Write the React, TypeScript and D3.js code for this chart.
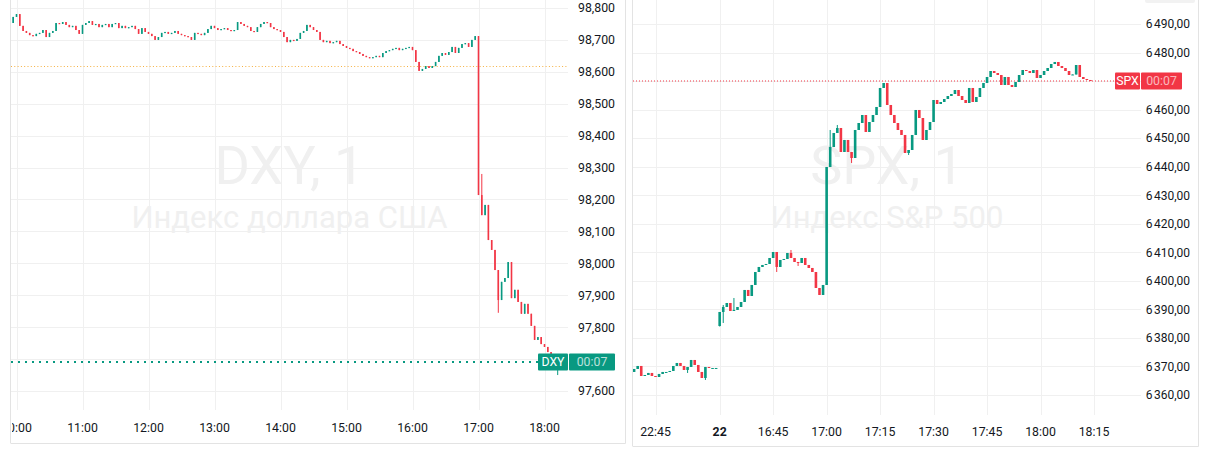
import React from 'react';
import * as d3 from 'd3';

// ---------------- DXY (left panel) ----------------
const dxyTimeTicks = ['10:00', '11:00', '12:00', '13:00', '14:00', '15:00', '16:00', '17:00', '18:00'];
const dxyPriceTicks = [97.6, 97.7, 97.8, 97.9, 98.0, 98.1, 98.2, 98.3, 98.4, 98.5, 98.6, 98.7, 98.8];
const dxyStart = '09:54';
const dxyStepMinutes = 3;
const dxyFirstOpen = 98.745;
const dxyClose = [
  98.753, 98.772, 98.781, 98.744, 98.728, 98.722, 98.715, 98.712, 98.719, 98.722,
  98.731, 98.709, 98.722, 98.728, 98.753, 98.750, 98.756, 98.747, 98.740, 98.744,
  98.731, 98.719, 98.747, 98.753, 98.759, 98.747, 98.750, 98.740, 98.747, 98.750,
  98.740, 98.750, 98.753, 98.737, 98.744, 98.737, 98.740, 98.744, 98.734, 98.719,
  98.737, 98.725, 98.719, 98.712, 98.700, 98.709, 98.722, 98.725, 98.719, 98.722,
  98.728, 98.719, 98.715, 98.712, 98.709, 98.700, 98.722, 98.719, 98.715, 98.722,
  98.734, 98.744, 98.737, 98.731, 98.734, 98.737, 98.731, 98.728, 98.731, 98.756,
  98.750, 98.744, 98.740, 98.728, 98.725, 98.740, 98.750, 98.756, 98.753, 98.740,
  98.734, 98.731, 98.725, 98.709, 98.693, 98.700, 98.697, 98.703, 98.722, 98.728,
  98.747, 98.740, 98.731, 98.725, 98.700, 98.693, 98.697, 98.690, 98.693, 98.697,
  98.687, 98.681, 98.675, 98.672, 98.665, 98.662, 98.656, 98.650, 98.646, 98.643,
  98.646, 98.650, 98.646, 98.659, 98.665, 98.668, 98.672, 98.675, 98.668, 98.672,
  98.675, 98.678, 98.668, 98.631, 98.603, 98.609, 98.618, 98.612, 98.618, 98.631,
  98.650, 98.659, 98.653, 98.662, 98.678, 98.659, 98.675, 98.687, 98.690, 98.678,
  98.700, 98.712, 98.214, 98.151, 98.183, 98.073, 98.042, 97.979, 97.885, 97.942,
  97.954, 98.004, 97.891, 97.917, 97.879, 97.842, 97.873, 97.842, 97.804, 97.760,
  97.769, 97.747, 97.738, 97.722, 97.691, 97.666, 97.691,
];
const dxyWicks = [
  { i: 143, hi: 98.28 },
  { i: 148, lo: 97.845 },
  { i: 166, lo: 97.65 },
];
const dxyRefLine = 98.617;
const dxyTitle = 'DXY, 1';
const dxyName = 'Индекс доллара США';
const dxyTag = 'DXY';
const countdown = '00:07';

// ---------------- SPX (right panel) ----------------
const spxTickLabels = ['22:45', '22', '16:45', '17:00', '17:15', '17:30', '17:45', '18:00', '18:15'];
const spxTickBars = [6, 24, 39, 54, 69, 84, 99, 114, 129];
const spxPriceTicks = [6360, 6370, 6380, 6390, 6400, 6410, 6420, 6430, 6440, 6450, 6460, 6470, 6480, 6490];
const spxFirstOpen = 6368.07;
const spxSessionBar = 24;
const spxSessionOpen = 6384.18;
const spxClose = [
  6369.12, 6370.17, 6366.66, 6367.01, 6367.72, 6366.66, 6366.31, 6367.37, 6368.07, 6368.07,
  6368.42, 6370.17, 6371.22, 6370.17, 6368.77, 6369.82, 6372.27, 6370.52, 6368.07, 6365.96,
  6369.82, 6369.47, 6369.47, 6369.47, 6389.09, 6390.84, 6392.24, 6389.44, 6389.79, 6390.84,
  6392.59, 6396.80, 6394.69, 6398.55, 6403.10, 6404.86, 6405.56, 6405.91, 6408.01, 6410.11,
  6404.86, 6407.31, 6407.66, 6409.76, 6408.01, 6406.61, 6406.26, 6408.01, 6405.56, 6404.51,
  6403.10, 6397.50, 6395.05, 6398.55, 6439.89, 6446.90, 6451.81, 6453.56, 6445.15, 6449.36,
  6445.15, 6443.05, 6452.86, 6455.31, 6458.11, 6452.16, 6455.66, 6458.11, 6460.92, 6467.58,
  6469.33, 6461.62, 6458.11, 6455.31, 6452.86, 6451.11, 6444.80, 6445.85, 6451.11, 6459.87,
  6457.06, 6449.36, 6452.86, 6455.66, 6463.37, 6461.97, 6462.67, 6463.72, 6464.77, 6465.47,
  6466.87, 6464.77, 6463.37, 6462.32, 6467.58, 6462.67, 6464.42, 6467.58, 6469.33, 6471.43,
  6473.53, 6472.83, 6472.13, 6468.63, 6471.43, 6468.63, 6467.93, 6469.68, 6472.13, 6473.88,
  6473.53, 6472.83, 6473.88, 6471.08, 6472.13, 6473.53, 6474.58, 6475.98, 6476.69, 6475.28,
  6474.58, 6473.53, 6472.13, 6472.31, 6475.63, 6471.43, 6470.73, 6470.38, 6470.03,
];
const spxWicks = [
  { i: 15, lo: 6367.72 },
  { i: 20, lo: 6365.26 },
  { i: 24, lo: 6384.0 },
  { i: 25, hi: 6391.54, lo: 6385.24 },
  { i: 28, hi: 6393.99 },
  { i: 40, lo: 6403.1 },
  { i: 44, hi: 6410.81 },
  { i: 46, lo: 6405.21 },
  { i: 55, hi: 6452.86 },
  { i: 57, hi: 6454.61 },
  { i: 61, lo: 6441.3 },
  { i: 77, lo: 6444.1 },
];
const spxTitle = 'SPX, 1';
const spxName = 'Индекс S&P 500';
const spxTag = 'SPX';

// ---------------- styling ----------------
const GREEN = '#089981';
const RED = '#f23645';
const GRID = '#f0f0f0';
const BORDER = '#e3e3e3';
const TEXT = '#131722';
const WATER = '#f0f0f0';
const FONT = 'Roboto, "Noto Sans", "Liberation Sans", sans-serif';

const hm = (s: string) => {
  const [h, m] = s.split(':').map(Number);
  return h * 60 + m;
};

const ruLocale = d3.formatLocale({ decimal: ',', thousands: '\u202f', grouping: [3], currency: ['', ''] });
const fmtDxy = ruLocale.format('.3f');
const fmtSpx = ruLocale.format(',.2f');

type Wick = { i: number; hi?: number; lo?: number };

function buildCandles(close: number[], firstOpen: number, wicks: Wick[], gapBar?: number, gapOpen?: number) {
  return close.map((c, i) => {
    let o = i === 0 ? firstOpen : close[i - 1];
    if (gapBar !== undefined && i === gapBar && gapOpen !== undefined) o = gapOpen;
    const w = wicks.find((d) => d.i === i);
    const hi = Math.max(o, c, w && w.hi !== undefined ? w.hi : -Infinity);
    const lo = Math.min(o, c, w && w.lo !== undefined ? w.lo : Infinity);
    return { i, o, c, hi, lo };
  });
}

export default function App() {
  // ----- left scales -----
  const xL = d3.scaleLinear().domain([hm('10:00'), hm('18:00')]).range([16.5, 544.5]);
  const yL = d3.scaleLinear().domain([97.6, 98.8]).range([391, 8]);
  const dxy = buildCandles(dxyClose, dxyFirstOpen, dxyWicks);
  const dxyStartMin = hm(dxyStart);
  const dxyLast = dxyClose[dxyClose.length - 1];
  const Lplot = { x0: 11, x1: 568, y1: 410 };

  // ----- right scales -----
  const xR = d3.scaleLinear().domain([6, 129]).range([655.5, 1094]);
  const yR = d3.scaleLinear().domain([6360, 6490]).range([395, 24]);
  const spx = buildCandles(spxClose, spxFirstOpen, spxWicks, spxSessionBar, spxSessionOpen);
  const spxLast = spxClose[spxClose.length - 1];
  const Rplot = { x0: 633, x1: 1141, y1: 415 };

  const px = (v: number) => Math.round(v) + 0.5;

  const dxyBW = 1.6;
  const spxBW = 2.6;

  const yDxyLast = yL(dxyLast);
  const ySpxLast = yR(spxLast);

  // axis labels hidden behind the last-price tags are not drawn
  const dxyAxisTicks = dxyPriceTicks.filter((p) => Math.abs(yL(p) - yDxyLast) > 11);
  const spxAxisTicks = spxPriceTicks.filter((p) => Math.abs(yR(p) - ySpxLast) > 11);

  return (
    <svg
      width={1210}
      height={454}
      style={{ position: 'absolute', left: 0, top: 0, background: '#fff' }}
      fontFamily={FONT}
    >
      <defs>
        <clipPath id="clipL">
          <rect x={Lplot.x0} y={0} width={Lplot.x1 - Lplot.x0} height={Lplot.y1} />
        </clipPath>
        <clipPath id="clipLaxis">
          <rect x={Lplot.x0 + 1} y={0} width={625 - Lplot.x0} height={454} />
        </clipPath>
        <clipPath id="clipR">
          <rect x={Rplot.x0} y={0} width={Rplot.x1 - Rplot.x0} height={Rplot.y1} />
        </clipPath>
      </defs>
      <rect x={0} y={0} width={1210} height={454} fill="#fff" />

      {/* ================= LEFT PANEL ================= */}
      <g clipPath="url(#clipL)">
        <text x={(Lplot.x0 + Lplot.x1) / 2} y={184} textAnchor="middle" fontSize={54} fill={WATER}>
          {dxyTitle}
        </text>
        <text x={(Lplot.x0 + Lplot.x1) / 2} y={228} textAnchor="middle" fontSize={31} fill={WATER}>
          {dxyName}
        </text>
        {dxyPriceTicks.map((p) => (
          <line key={'lh' + p} x1={Lplot.x0} x2={Lplot.x1} y1={px(yL(p))} y2={px(yL(p))} stroke={GRID} />
        ))}
        {dxyTimeTicks.map((t) => (
          <line key={'lv' + t} x1={px(xL(hm(t)))} x2={px(xL(hm(t)))} y1={0} y2={Lplot.y1} stroke={GRID} />
        ))}
        <line
          x1={Lplot.x0}
          x2={Lplot.x1}
          y1={px(yL(dxyRefLine))}
          y2={px(yL(dxyRefLine))}
          stroke="#f5b041"
          strokeWidth={1}
          strokeDasharray="1 2.3"
        />
        {dxy.map((d) => {
          const x = xL(dxyStartMin + d.i * dxyStepMinutes);
          const up = d.c >= d.o;
          const col = up ? GREEN : RED;
          const top = yL(Math.max(d.o, d.c));
          const bot = yL(Math.min(d.o, d.c));
          return (
            <g key={'dc' + d.i}>
              <line x1={x} x2={x} y1={yL(d.hi)} y2={yL(d.lo)} stroke={col} strokeWidth={1} />
              <rect x={x - dxyBW / 2} y={top} width={dxyBW} height={Math.max(1.2, bot - top)} fill={col} />
            </g>
          );
        })}
        <line
          x1={Lplot.x0}
          x2={538}
          y1={yDxyLast}
          y2={yDxyLast}
          stroke={GREEN}
          strokeWidth={2}
          strokeDasharray="2 5"
        />
      </g>

      {/* left borders */}
      <line x1={10.5} x2={10.5} y1={0} y2={443} stroke={BORDER} />
      <line x1={10.5} x2={625.5} y1={443.5} y2={443.5} stroke={BORDER} />
      <line x1={625.5} x2={625.5} y1={0} y2={443.5} stroke={BORDER} />

      {/* left price axis */}
      {dxyAxisTicks.map((p) => (
        <text key={'lt' + p} x={615} y={yL(p)} dy="0.36em" textAnchor="end" fontSize={12.3} fill={TEXT}>
          {fmtDxy(p)}
        </text>
      ))}
      {/* left time axis */}
      <g clipPath="url(#clipLaxis)">
        {dxyTimeTicks.map((t) => (
          <text key={'ltt' + t} x={xL(hm(t))} y={432} textAnchor="middle" fontSize={12.3} fill={TEXT}>
            {t}
          </text>
        ))}
      </g>
      {/* DXY tag */}
      <g>
        <rect x={538} y={yDxyLast - 8.5} width={30} height={17} fill={GREEN} rx={1} />
        <rect x={569} y={yDxyLast - 8.5} width={46} height={17} fill={GREEN} rx={1} />
        <text x={553} y={yDxyLast} dy="0.36em" textAnchor="middle" fontSize={12.3} fill="#fff">
          {dxyTag}
        </text>
        <text x={592} y={yDxyLast} dy="0.36em" textAnchor="middle" fontSize={12.3} fill="rgba(255,255,255,0.72)">
          {countdown}
        </text>
      </g>

      {/* ================= RIGHT PANEL ================= */}
      <g clipPath="url(#clipR)">
        <text x={(Rplot.x0 + Rplot.x1) / 2} y={184} textAnchor="middle" fontSize={54} fill={WATER}>
          {spxTitle}
        </text>
        <text x={(Rplot.x0 + Rplot.x1) / 2} y={228} textAnchor="middle" fontSize={31} fill={WATER}>
          {spxName}
        </text>
        {spxPriceTicks.map((p) => (
          <line key={'rh' + p} x1={Rplot.x0} x2={Rplot.x1} y1={px(yR(p))} y2={px(yR(p))} stroke={GRID} />
        ))}
        {spxTickBars.map((b) => (
          <line key={'rv' + b} x1={px(xR(b))} x2={px(xR(b))} y1={0} y2={Rplot.y1} stroke={GRID} />
        ))}
        <line
          x1={Rplot.x0}
          x2={1115}
          y1={ySpxLast}
          y2={ySpxLast}
          stroke={RED}
          strokeWidth={1}
          strokeDasharray="1 2"
        />
        {spx.map((d) => {
          const x = xR(d.i);
          const up = d.c >= d.o;
          const col = up ? GREEN : RED;
          const top = yR(Math.max(d.o, d.c));
          const bot = yR(Math.min(d.o, d.c));
          return (
            <g key={'sc' + d.i}>
              <line x1={x} x2={x} y1={yR(d.hi)} y2={yR(d.lo)} stroke={col} strokeWidth={1} />
              <rect x={x - spxBW / 2} y={top} width={spxBW} height={Math.max(1, bot - top)} fill={col} />
            </g>
          );
        })}
      </g>

      {/* right borders */}
      <line x1={632.5} x2={632.5} y1={0} y2={446} stroke={BORDER} />
      <line x1={632.5} x2={1198.5} y1={446.5} y2={446.5} stroke={BORDER} />
      <line x1={1198.5} x2={1198.5} y1={0} y2={446.5} stroke={BORDER} />
      <rect x={1145} y={-4} width={50} height={7} rx={2} fill="#f2f2f2" />

      {/* right price axis */}
      {spxAxisTicks.map((p) => (
        <text key={'rt' + p} x={1190} y={yR(p)} dy="0.36em" textAnchor="end" fontSize={12} fill={TEXT}>
          {fmtSpx(p)}
        </text>
      ))}
      {/* right time axis */}
      {spxTickBars.map((b, k) => (
        <text
          key={'rtt' + b}
          x={xR(b)}
          y={436}
          textAnchor="middle"
          fontSize={12.3}
          fontWeight={spxTickLabels[k].length === 2 ? 700 : 400}
          fill={TEXT}
        >
          {spxTickLabels[k]}
        </text>
      ))}
      {/* SPX tag */}
      <g>
        <rect x={1115} y={ySpxLast - 8.5} width={25} height={17} fill={RED} rx={1} />
        <rect x={1141} y={ySpxLast - 8.5} width={41} height={17} fill={RED} rx={1} />
        <text x={1127.5} y={ySpxLast} dy="0.36em" textAnchor="middle" fontSize={12.3} fill="#fff">
          {spxTag}
        </text>
        <text x={1161.5} y={ySpxLast} dy="0.36em" textAnchor="middle" fontSize={12.3} fill="rgba(255,255,255,0.65)">
          {countdown}
        </text>
      </g>
    </svg>
  );
}
